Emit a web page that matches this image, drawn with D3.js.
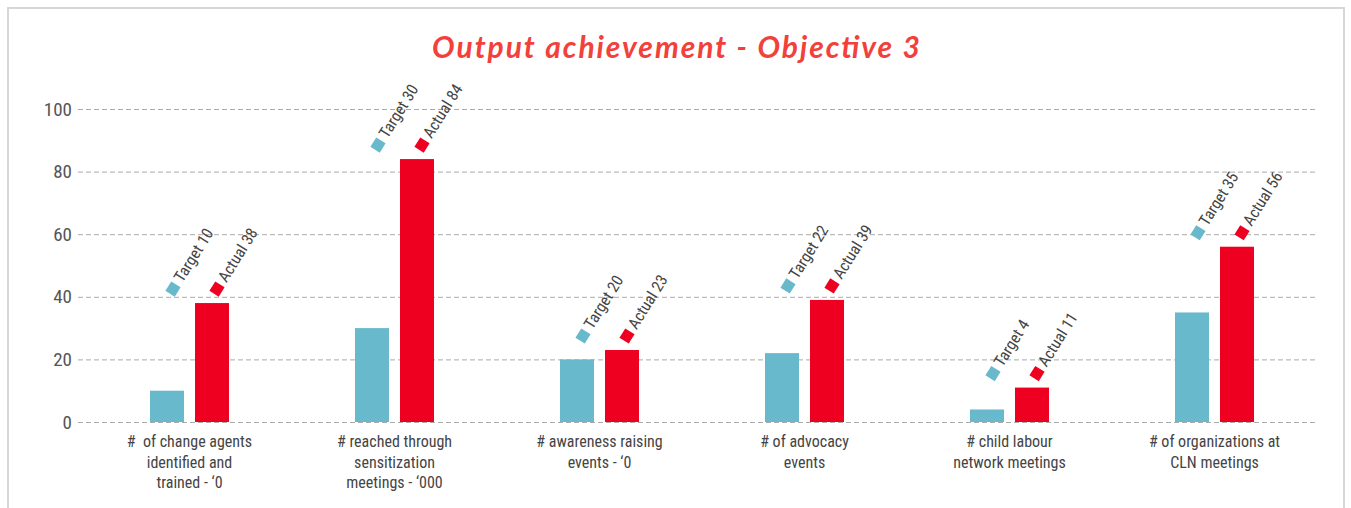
<!DOCTYPE html>
<html>
<head>
<meta charset="utf-8">
<script src="https://cdnjs.cloudflare.com/ajax/libs/d3/7.8.5/d3.min.js"></script>
<style>
  body { margin: 0; background: #fff; }
  svg text { font-family: "Liberation Sans Narrow", "Arial Narrow", "Roboto Condensed", sans-serif; }
</style>
</head>
<body>
<div id="chart"></div>
<script>
var categories = [
    ["#\u00a0 of change agents", "identified and", "trained - \u20180"],
    ["# reached through", "sensitization", "meetings - \u2018000"],
    ["# awareness raising", "events - \u20180"],
    ["# of advocacy", "events"],
    ["# child labour", "network meetings"],
    ["# of organizations at", "CLN meetings"]
];
var target = [10, 30, 20, 22, 4, 35];
var actual = [38, 84, 23, 39, 11, 56];
var yTicks = [0, 20, 40, 60, 80, 100];

var width = 1351;
var height = 508;

var svg = d3.select("#chart")
    .append("svg")
    .attr("width", width)
    .attr("height", height);

// frame
svg.append("path")
    .attr("d", "M8,520 V8 H1344 V520")
    .attr("fill", "none")
    .attr("stroke", "#d6d6d6")
    .attr("stroke-width", 2);

svg.append("text")
    .attr("x", 676)
    .attr("y", 58)
    .attr("text-anchor", "middle")
    .style("font-family", "Lato, 'DejaVu Sans', sans-serif")
    .style("font-style", "italic")
    .style("font-weight", "bold")
    .style("font-size", "30px")
    .attr("fill", "#f2413a")
    .attr("textLength", 488)
    .text("Output achievement - Objective 3");

var y = d3.scaleLinear().domain([0, 100]).range([422, 109]);
var x = d3.scaleBand().domain(d3.range(categories.length)).range([87, 1317]);

var bw = 34, gap = 11;

// grid + y axis
var yAxis = d3.axisLeft(y).tickValues(yTicks).tickSize(-1240).tickPadding(6);
var gy = svg.append("g").attr("transform", "translate(78,0)").call(yAxis);
gy.select(".domain").remove();
gy.selectAll(".tick line")
    .attr("stroke", "#aaa")
    .attr("stroke-dasharray", "5,3");
gy.selectAll(".tick text")
    .attr("fill", "#555")
    .style("font-size", "19px");

var groups = svg.selectAll(".grp")
    .data(categories)
    .enter().append("g")
    .attr("class", "grp")
    .attr("transform", function(d, i) { return "translate(" + (x(i) + x.bandwidth() / 2) + ",0)"; });

// bars
groups.append("rect")
    .attr("x", -bw - gap / 2)
    .attr("width", bw)
    .attr("y", function(d, i) { return y(target[i]); })
    .attr("height", function(d, i) { return y(0) - y(target[i]); })
    .attr("fill", "#67b9cb");

groups.append("rect")
    .attr("x", gap / 2)
    .attr("width", bw)
    .attr("y", function(d, i) { return y(actual[i]); })
    .attr("height", function(d, i) { return y(0) - y(actual[i]); })
    .attr("fill", "#ee0020");

// markers + rotated labels
var series = [
    { name: "Target", vals: target, color: "#67b9cb", dx: -bw / 2 - gap / 2 + 6 },
    { name: "Actual", vals: actual, color: "#ee0020", dx: bw / 2 + gap / 2 + 5 }
];

series.forEach(function(s) {
    var m = groups.append("g")
        .attr("transform", function(d, i) {
            var top = y(Math.max(target[i], actual[i])) - 14;
            return "translate(" + s.dx + "," + top + ") rotate(-58)";
        });
    m.append("rect")
        .attr("x", -5.5).attr("y", -5.5)
        .attr("width", 11).attr("height", 11)
        .attr("fill", s.color);
    m.append("text")
        .attr("x", 10)
        .attr("y", 5)
        .attr("fill", "#444")
        .style("font-size", "16px")
        .text(function(d, i) { return s.name + " " + s.vals[i]; });
});

// category labels
groups.each(function(d) {
    var t = d3.select(this).append("text")
        .attr("text-anchor", "middle")
        .attr("fill", "#444")
        .style("font-size", "16px");
    d.forEach(function(line, k) {
        t.append("tspan").attr("x", 0).attr("y", 447 + k * 20.5).text(line);
    });
});
</script>
</body>
</html>
